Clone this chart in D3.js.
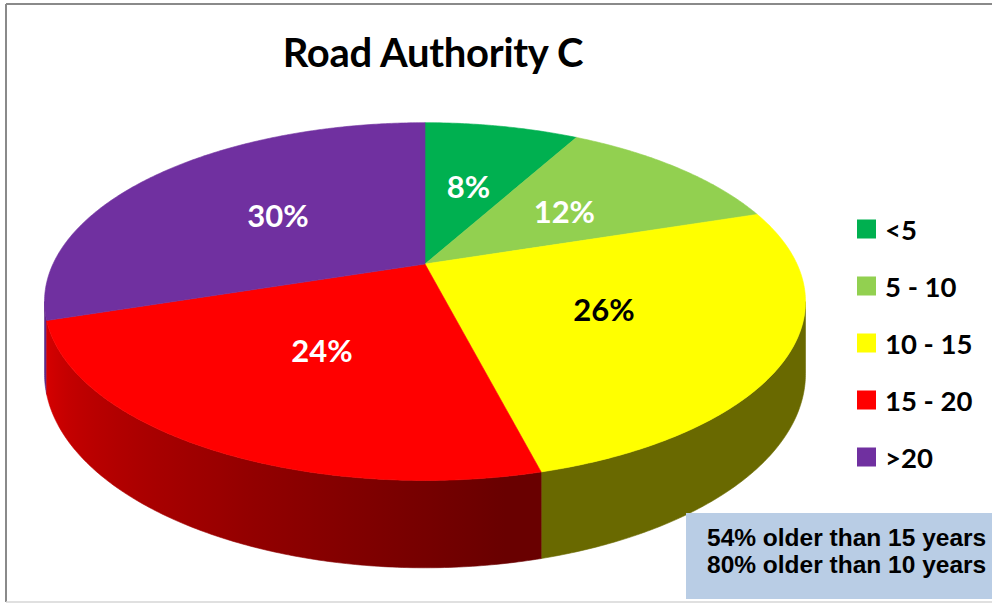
<!DOCTYPE html>
<html>
<head>
<meta charset="utf-8">
<script src="https://cdn.jsdelivr.net/npm/d3@7"></script>
<style>
  html, body { margin: 0; padding: 0; background: #fff; }
  svg { display: block; }
</style>
</head>
<body>
<svg id="chart" width="992" height="603"></svg>
<script>
// Données du graphique
const title = "Road Authority C";
const categories = ["<5", "5 - 10", "10 - 15", "15 - 20", ">20"];
const values = [8, 12, 26, 24, 30];
const colors = ["#00B050", "#92D050", "#FFFF00", "#FF0000", "#7030A0"];
const labelColors = ["#fff", "#fff", "#000", "#fff", "#fff"];
const notes = ["54% older than 15 years", "80% older than 10 years"];

const svg = d3.select("#chart");

// Cadre de la zone du graphique
svg.append("line").attr("x1", 6).attr("y1", 4).attr("x2", 992).attr("y2", 4)
  .attr("stroke", "#8a8a8a").attr("stroke-width", 2);
svg.append("line").attr("x1", 6).attr("y1", 4).attr("x2", 6).attr("y2", 602)
  .attr("stroke", "#8a8a8a").attr("stroke-width", 2);
svg.append("line").attr("x1", 6).attr("y1", 602).attr("x2", 992).attr("y2", 602)
  .attr("stroke", "#d6d6d6").attr("stroke-width", 1.5);

// Titre
svg.append("text")
  .attr("x", 433).attr("y", 67)
  .attr("text-anchor", "middle")
  .attr("font-family", "Lato, sans-serif")
  .attr("font-weight", 700)
  .attr("font-size", 40)
  .attr("letter-spacing", -0.3)
  .text(title);

// Projection en perspective du camembert 3D
const cx = 425, cy = 264, F = 372, G = 171, t = 0.21, depth = 69;
function proj(a, r, h) {
  const X = r * Math.sin(a), Z = -r * Math.cos(a);
  const w = 1 - t * Z;
  return [cx + F * X / w, cy + (G * Z + depth * h) / w];
}
// angles de la silhouette (bords gauche et droit)
const sil1 = Math.acos(-t), sil2 = 2 * Math.PI - sil1;

const pie = d3.pie().sort(null).startAngle(0).endAngle(2 * Math.PI);
const arcs = pie(values);
const line = d3.line();

function sampleAngles(a0, a1) {
  const n = Math.max(2, Math.ceil((a1 - a0) / 0.01));
  return d3.range(n + 1).map(i => a0 + (a1 - a0) * i / n);
}

// Ombrage des côtés : plus clair vers la gauche
function shade(a) {
  const k = Math.max(0, Math.min(1, (a - 2.97) / (4.40 - 2.97)));
  return 0.41 + 0.43 * k;
}

const defs = svg.append("defs");
const g = svg.append("g");

// Côtés (parois extérieures visibles)
const walls = arcs.map((d, i) => {
  const lo = Math.max(d.startAngle, sil1), hi = Math.min(d.endAngle, sil2);
  return { i, lo, hi };
}).filter(w => w.lo < w.hi)
  .sort((a, b) => Math.cos((b.lo + b.hi) / 2) - Math.cos((a.lo + a.hi) / 2));

walls.forEach(w => {
  const angs = sampleAngles(w.lo, w.hi);
  const top = angs.map(a => proj(a, 1, 0));
  const bot = angs.slice().reverse().map(a => proj(a, 1, 1));
  const xa = top[0][0], xb = top[top.length - 1][0];
  const base = d3.color(colors[w.i]);
  const grad = defs.append("linearGradient")
    .attr("id", "side" + w.i)
    .attr("gradientUnits", "userSpaceOnUse")
    .attr("x1", xa).attr("x2", xb).attr("y1", 0).attr("y2", 0);
  angs.filter((_, k, arr) => k % 8 === 0 || k === arr.length - 1)
    .forEach(a => {
      const x = proj(a, 1, 0)[0];
      const s = shade(a);
      const c = d3.rgb(base.r * s, base.g * s, base.b * s);
      grad.append("stop")
        .attr("offset", xb === xa ? 0 : (x - xa) / (xb - xa))
        .attr("stop-color", c.formatHex());
    });
  g.append("path")
    .attr("d", line(top.concat(bot)) + "Z")
    .attr("fill", `url(#side${w.i})`)
    .attr("stroke", `url(#side${w.i})`)
    .attr("stroke-width", 0.6);
});

// Faces supérieures
arcs.forEach((d, i) => {
  const pts = [proj(0, 0, 0)].concat(sampleAngles(d.startAngle, d.endAngle).map(a => proj(a, 1, 0)));
  g.append("path")
    .attr("d", line(pts) + "Z")
    .attr("fill", colors[i])
    .attr("stroke", colors[i])
    .attr("stroke-width", 0.6);
});

// Étiquettes de pourcentage
arcs.forEach((d, i) => {
  const [x, y] = proj((d.startAngle + d.endAngle) / 2, 0.52, 0);
  g.append("text")
    .attr("x", x).attr("y", y)
    .attr("text-anchor", "middle")
    .attr("dominant-baseline", "central")
    .attr("font-family", "Lato, sans-serif")
    .attr("font-weight", 700)
    .attr("font-size", 31)
    .attr("fill", labelColors[i])
    .text(values[i] + "%");
});

// Légende
const ly = d3.scalePoint().domain(categories).range([229, 457]);
const leg = svg.append("g").selectAll("g").data(categories).join("g")
  .attr("transform", d => `translate(857,${ly(d)})`);
leg.append("rect")
  .attr("x", 0).attr("y", -9.5).attr("width", 19).attr("height", 19)
  .attr("fill", (d, i) => colors[i]);
leg.append("text")
  .attr("x", 28).attr("y", 0)
  .attr("dominant-baseline", "central")
  .attr("font-family", "Lato, sans-serif")
  .attr("font-weight", 700)
  .attr("font-size", 27.5)
  .text(d => d);

// Encadré de remarques
svg.append("rect")
  .attr("x", 686).attr("y", 513).attr("width", 310).attr("height", 86)
  .attr("fill", "#B9CDE5");
svg.append("g").selectAll("text").data(notes).join("text")
  .attr("x", 707)
  .attr("y", (d, i) => 546 + i * 27)
  .attr("font-family", "'Liberation Sans', Arial, sans-serif")
  .attr("font-weight", 700)
  .attr("font-size", 24.5)
  .text(d => d);
</script>
</body>
</html>
